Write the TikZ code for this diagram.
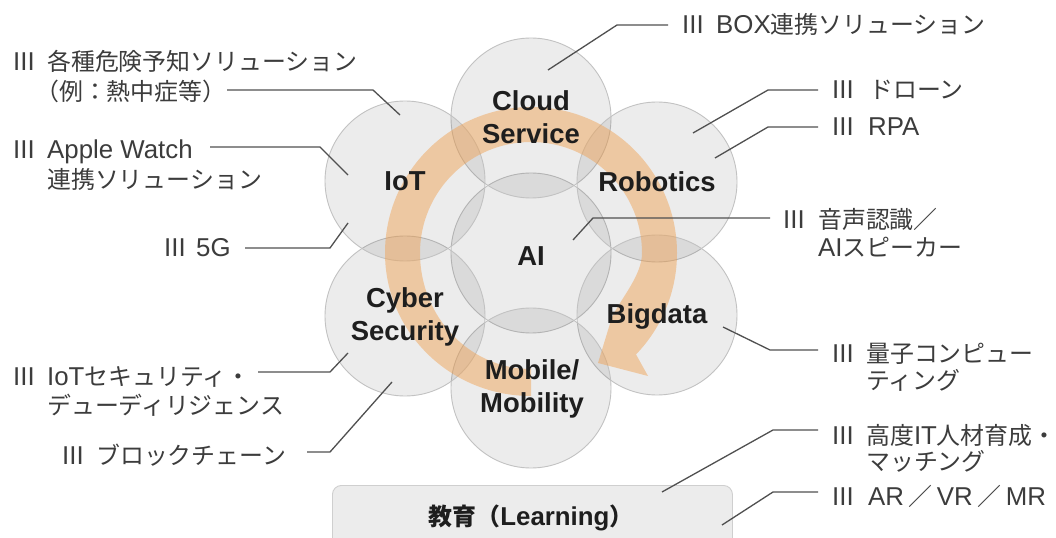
\documentclass[tikz,border=0pt]{standalone}
\usepackage{fontspec}
\setmainfont{Liberation Sans}[Scale=1.08]
\newfontfamily\jp{Noto Sans CJK JP}
\usetikzlibrary{calc}
\definecolor{labc}{HTML}{3C3C3C}
\definecolor{leadc}{HTML}{505050}
\definecolor{ringc}{HTML}{C2C2C2}
\definecolor{bandc}{HTML}{F0A050}
\definecolor{boxf}{HTML}{ECECEC}
\definecolor{boxd}{HTML}{CFCFCF}
\definecolor{bigc}{HTML}{1E1E1E}
\tikzset{
  bubble/.style={circle, minimum size=160bp, inner sep=0pt, fill=black, fill opacity=0.075, draw=ringc, draw opacity=1, line width=0.9bp},
  bubtext/.style={align=center, inner sep=0pt, text=bigc, font=\bfseries\fontsize{25.5}{33}\selectfont},
  lbl/.style={anchor=base west, inner sep=0pt, text=labc, font=\fontsize{24}{30}\selectfont},
  leader/.style={draw=leadc, line width=1.3bp},
  band/.style={fill=bandc, fill opacity=0.47},
}
\begin{document}
\begin{tikzpicture}[x=1bp, y=-1bp]
\useasboundingbox (0,0) rectangle (1056,538);
\clip (0,0) rectangle (1056,538);
\fill[white] (0,0) rectangle (1056,538);
% education box
\node[draw=boxd, fill=boxf, line width=0.9bp, rounded corners=9bp, minimum width=400bp, minimum height=80bp, anchor=north west, inner sep=0pt] (edu) at (332,485) {};
\node[inner sep=0pt, text=bigc, font=\bfseries\fontsize{24}{30}\selectfont] (edut) at (531,518) {{\jp 教育（}Learning{\jp ）}};
% circles
\node[bubble] (ai) at (531,253) {};
\node[bubble] (cloud) at (531,118) {};
\node[bubble] (robo) at (657,182) {};
\node[bubble] (big) at (657,315) {};
\node[bubble] (mob) at (531,388) {};
\node[bubble] (cyb) at (405,316) {};
\node[bubble] (iot) at (405,181) {};
% circular arrow
\fill[band] ($(ai.center)+(0,143)$) arc[start angle=90, end angle=180, x radius=146, y radius=143]
  arc[start angle=180, end angle=404, radius=146]
  -- (648,376) -- (598,363) -- (612,317)
  .. controls (622,297) and (642,275) .. ($(ai.center)+(111,0)$)
  arc[start angle=360, end angle=180, radius=111]
  arc[start angle=180, end angle=90, x radius=111, y radius=116] -- cycle;
% circle labels
\node[bubtext] (tcloud) at (531,117) {Cloud\\Service};
\node[bubtext] (trobo) at (657,182) {Robotics};
\node[bubtext] (tbig) at (657,316) {Bigdata};
\node[bubtext] (tmob) at (532,389) {Mobile/\\Mobility};
\node[bubtext] (tcyb) at (405,317) {Cyber\\Security};
\node[bubtext] (tiot) at (405,181) {IoT};
\node[bubtext] (tai) at (531,256) {AI};
% right labels
\node[lbl] (m1) at (682,34) {III};
\node[lbl] (t1) at (716,34) {BOX{\jp 連携ソリューション}};
\node[lbl] (m2) at (832,99) {III};
\node[lbl] (t2) at (869,99) {\jp ドローン};
\node[lbl] (m3) at (832,136) {III};
\node[lbl] (t3) at (868,136) {RPA};
\node[lbl] (m4) at (783,229) {III};
\node[lbl] (t4) at (818,229) {\jp 音声認識／};
\node[lbl] (t4b) at (818,257) {AI{\jp スピーカー}};
\node[lbl] (m5) at (832,363) {III};
\node[lbl] (t5) at (866,363) {\jp 量子コンピュー};
\node[lbl] (t5b) at (866,389) {\jp ティング};
\node[lbl] (m6) at (832,444) {III};
\node[lbl] (t6) at (866,444) {{\jp 高度}IT{\jp 人材育成・}};
\node[lbl] (t6b) at (866,470) {\jp マッチング};
\node[lbl] (m7) at (832,505) {III};
\node[lbl] (t7) at (868,505) {AR\hspace{4.5bp}{\jp ／}\hspace{4.5bp}VR\hspace{4.5bp}{\jp ／}\hspace{4.5bp}MR};
% left labels
\node[lbl] (m8) at (13,71) {III};
\node[lbl] (t8) at (47,71) {\jp 各種危険予知ソリューション};
\node[lbl] (t8b) at (47,101) {\jp \kern-0.5em（例：熱中症等）};
\node[lbl] (m9) at (13,159) {III};
\node[lbl] (t9) at (47,159) {Apple Watch};
\node[lbl] (t9b) at (47,189) {\jp 連携ソリューション};
\node[lbl] (m10) at (164,257) {III};
\node[lbl] (t10) at (196,257) {5G};
\node[lbl] (m11) at (13,386) {III};
\node[lbl] (t11) at (47,386) {IoT{\jp セキュリティ・}};
\node[lbl] (t11b) at (47,414) {\jp デューディリジェンス};
\node[lbl] (m12) at (62,464) {III};
\node[lbl] (t12) at (96,464) {\jp ブロックチェーン};
% leader coordinates
\coordinate (a1) at (668,25); \coordinate (b1) at (617,25); \coordinate (c1) at (548,70);
\coordinate (a2) at (818,90); \coordinate (b2) at (768,90); \coordinate (c2) at (693,133);
\coordinate (a3) at (818,127); \coordinate (b3) at (768,127); \coordinate (c3) at (715,158);
\coordinate (a4) at (770,218); \coordinate (b4) at (593,218); \coordinate (c4) at (573,240);
\coordinate (a5) at (818,350); \coordinate (b5) at (770,350); \coordinate (c5) at (723,327);
\coordinate (a6) at (818,430); \coordinate (b6) at (773,430); \coordinate (c6) at (662,492);
\coordinate (a7) at (818,492); \coordinate (b7) at (773,492); \coordinate (c7) at (722,525);
\coordinate (a8) at (227,90); \coordinate (b8) at (373,90); \coordinate (c8) at (400,115);
\coordinate (a9) at (210,147); \coordinate (b9) at (320,147); \coordinate (c9) at (348,175);
\coordinate (a10) at (245,248); \coordinate (b10) at (330,248); \coordinate (c10) at (348,223);
\coordinate (a11) at (258,372); \coordinate (b11) at (330,372); \coordinate (c11) at (348,353);
\coordinate (a12) at (307,452); \coordinate (b12) at (330,452); \coordinate (c12) at (392,382);
\foreach \i in {1,...,12} { \draw[leader] (a\i) -- (b\i) -- (c\i); }
\end{tikzpicture}
\end{document}
